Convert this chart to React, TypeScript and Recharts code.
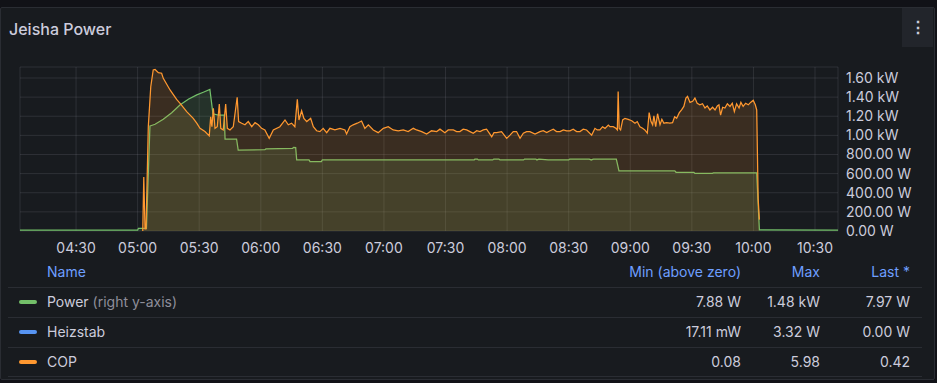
import React from 'react'
import { ComposedChart, Area, XAxis, YAxis, CartesianGrid } from 'recharts'

// times are minutes since midnight
const powerMinutes = [
  242.7, 300.0, 300.4, 304.3, 306.0, 306.4, 308.5, 312.5, 316.6, 320.6, 324.7, 328.8, 332.0, 335.2,
  336.7, 339.3, 342.2, 342.6, 348.2, 349.0, 362.0, 362.5, 375.5, 376.0, 377.0, 377.5, 383.5, 384.0,
  389.5, 390.0, 464.0, 464.3, 465.5, 466.0, 473.0, 473.5, 476.0, 476.5, 488.0, 488.5, 494.0, 494.5,
  495.5, 500.0, 510.0, 510.5, 520.0, 521.0, 522.0, 533.2, 534.5, 561.7, 562.3, 571.0, 571.5, 580.0,
  580.5, 601.6, 602.9, 641.2,
]
const powerWatts = [
  8, 8, 28, 28, 1098, 1101, 1116, 1168, 1237, 1318, 1378, 1423, 1451, 1480,
  1225, 1213, 1213, 962, 962, 847, 850, 858, 865, 875, 872, 743, 743, 725,
  725, 743, 743, 752, 752, 743, 743, 752, 752, 743, 743, 752, 752, 743,
  752, 743, 743, 752, 752, 743, 752, 752, 628, 628, 614, 614, 603, 603,
  608, 608, 12, 8,
]

const copMinutes = [
  302.5, 303.0, 303.6, 304.1, 305.2, 306.4, 307.6, 308.5, 310.1, 311.7, 312.5, 315.8, 319.0, 320.6,
  323.9, 327.1, 328.8, 330.4, 332.8, 334.9, 335.6, 336.2, 336.9, 337.7, 338.8, 339.8, 340.5, 341.7,
  342.9, 343.7, 345.0, 346.6, 348.5, 349.2, 350.7, 352.3, 353.9, 355.6, 357.2, 358.8, 360.4, 362.0,
  364.1, 366.1, 369.3, 371.8, 373.4, 375.0, 376.6, 377.8, 378.6, 379.9, 381.0, 382.4, 384.3, 385.6,
  387.2, 388.8, 390.4, 392.1, 393.7, 396.1, 398.6, 401.0, 401.8, 403.4, 405.0, 407.0, 409.1, 410.7,
  412.4, 414.8, 417.2, 419.7, 422.1, 424.5, 427.0, 429.4, 431.8, 434.3, 435.9, 438.4, 440.8, 443.2,
  445.7, 447.3, 449.7, 451.3, 452.2, 453.8, 455.4, 457.0, 458.6, 460.3, 461.9, 463.5, 465.2, 466.8,
  468.4, 470.0, 472.5, 473.6, 474.9, 477.3, 479.8, 481.4, 483.0, 484.6, 486.3, 487.9, 489.5, 491.1,
  493.6, 496.0, 497.6, 499.3, 500.9, 502.5, 504.1, 505.8, 507.4, 509.0, 510.6, 512.2, 513.9, 515.5,
  517.1, 518.7, 521.2, 522.8, 523.9, 525.2, 526.5, 527.7, 529.3, 530.1, 531.7, 533.0, 533.7, 534.1,
  534.6, 535.3, 536.3, 537.4, 539.0, 540.7, 542.3, 543.4, 544.7, 546.0, 547.1, 548.3, 549.2, 550.1,
  550.9, 551.5, 552.4, 553.3, 554.5, 555.4, 556.4, 557.7, 559.3, 560.6, 561.6, 562.6, 563.9, 565.0,
  566.1, 567.1, 567.9, 569.1, 570.4, 571.5, 572.6, 573.9, 575.2, 576.4, 577.5, 578.8, 580.1, 581.3,
  582.4, 583.2, 584.0, 585.0, 586.1, 587.3, 588.6, 589.7, 590.7, 591.8, 593.0, 593.9, 595.0, 596.2,
  597.5, 598.6, 599.9, 600.9, 601.6, 602.3, 602.9,
]
const copValues = [
  0, 2.0, 0.08, 0.08, 3.86, 5.34, 5.96, 5.98, 5.86, 5.84, 5.65, 5.22, 4.87, 4.73,
  4.42, 4.17, 3.99, 3.8, 3.68, 3.52, 4.23, 3.86, 4.54, 3.8, 3.86, 4.7, 3.8, 3.74,
  4.7, 3.8, 3.74, 3.86, 4.95, 4.05, 3.99, 3.93, 4.05, 3.86, 4.01, 3.93, 3.8, 3.74,
  3.43, 3.74, 3.86, 4.11, 3.93, 3.99, 3.86, 4.87, 4.11, 4.45, 4.17, 4.05, 4.17, 3.86,
  3.71, 3.68, 3.8, 3.64, 3.8, 3.74, 3.8, 3.74, 3.59, 3.86, 3.93, 3.99, 4.07, 3.8,
  3.93, 3.74, 3.64, 3.8, 3.86, 3.74, 3.71, 3.74, 3.68, 3.8, 3.74, 3.68, 3.59, 3.71,
  3.68, 3.77, 3.64, 3.74, 3.74, 3.74, 3.68, 3.68, 3.77, 3.74, 3.68, 3.62, 3.71, 3.68,
  3.74, 3.77, 3.49, 3.64, 3.64, 3.68, 3.43, 3.55, 3.68, 3.68, 3.43, 3.62, 3.68, 3.68,
  3.59, 3.68, 3.71, 3.64, 3.71, 3.77, 3.68, 3.68, 3.74, 3.71, 3.71, 3.77, 3.68, 3.68,
  3.77, 3.74, 3.55, 3.8, 3.74, 3.74, 3.86, 3.8, 3.92, 3.86, 3.86, 3.8, 3.74, 5.16,
  3.8, 3.74, 4.11, 4.17, 4.13, 4.08, 3.99, 4.05, 3.86, 3.8, 3.74, 3.62, 4.38, 4.05,
  3.93, 4.26, 3.86, 4.34, 3.93, 4.13, 3.99, 4.01, 3.99, 4.01, 4.23, 4.17, 4.38, 4.48,
  4.61, 4.92, 4.98, 4.76, 4.8, 4.92, 4.73, 4.67, 4.71, 4.55, 4.63, 4.48, 4.58, 4.48,
  4.63, 4.67, 4.29, 4.58, 4.55, 4.71, 4.61, 4.73, 4.42, 4.71, 4.55, 4.76, 4.61, 4.73,
  4.67, 4.76, 4.84, 4.67, 4.48, 1.2, 0.42,
]

const timeTicks = [270, 300, 330, 360, 390, 420, 450, 480, 510, 540, 570, 600, 630]
const powerTicks = [0, 200, 400, 600, 800, 1000, 1200, 1400, 1600]

const legendNames = ['Power', 'Heizstab', 'COP']
const legendNotes = ['(right y-axis)', '', '']
const legendColors = ['#73BF69', '#5794F2', '#FF9830']
const legendMin = ['7.88 W', '17.11 mW', '0.08']
const legendMax = ['1.48 kW', '3.32 W', '5.98']
const legendLast = ['7.97 W', '0.00 W', '0.42']

const powerData = powerMinutes.map((t, i) => ({ t, v: powerWatts[i] }))
const copData = copMinutes.map((t, i) => ({ t, v: copValues[i] }))

const fmtTime = (m: number) => {
  const h = Math.floor(m / 60)
  const mm = Math.round(m % 60)
  return `${String(h).padStart(2, '0')}:${String(mm).padStart(2, '0')}`
}
const fmtPower = (v: number) => (v >= 1000 ? `${(v / 1000).toFixed(2)} kW` : `${v.toFixed(2)} W`)

const text = '#ccccdc'
const font = 'Inter, "Noto Sans", sans-serif'

export default function App() {
  return (
    <div style={{ position: 'relative', width: 937, height: 383, background: '#111217', fontFamily: font, overflow: 'hidden' }}>
      <style>{'body{margin:0;background:#111217}'}</style>

      {/* panel */}
      <div
        style={{
          position: 'absolute', left: 0, top: 7, width: 933, height: 371,
          background: '#181b1f', border: '1px solid #2a2d33', borderRadius: 2,
        }}
      />
      <div style={{ position: 'absolute', left: 9, top: 18, fontSize: 16, fontWeight: 500, color: text, lineHeight: '22px' }}>
        Jeisha Power
      </div>
      <div
        style={{
          position: 'absolute', left: 902, top: 8, width: 31, height: 39, background: '#22252b',
          color: text, fontSize: 16, lineHeight: '39px', textAlign: 'center', fontWeight: 700,
        }}
      >
        ⋮
      </div>

      {/* chart */}
      <div style={{ position: 'absolute', left: 0, top: 0 }}>
        <ComposedChart width={937} height={260} margin={{ top: 67, right: 8, bottom: 0, left: 20 }} style={{ fontFamily: font }}>
          <CartesianGrid yAxisId="power" stroke="rgba(204,204,220,0.12)" strokeWidth={1} />
          <XAxis
            type="number"
            dataKey="t"
            domain={[242.7, 641.2]}
            ticks={timeTicks}
            interval={0}
            allowDataOverflow
            tickFormatter={fmtTime}
            axisLine={false}
            tickLine={false}
            tickMargin={6}
            height={29}
            tick={{ fill: text, fontSize: 14 }}
          />
          <YAxis yAxisId="cop" hide domain={[0, 6.07]} />
          <YAxis
            yAxisId="power"
            orientation="right"
            domain={[0, 1715]}
            ticks={powerTicks}
            interval={0}
            width={91}
            tickFormatter={fmtPower}
            axisLine={false}
            tickLine={false}
            tick={{ fill: text, fontSize: 14 }}
          />
          <Area
            yAxisId="power"
            data={powerData}
            dataKey="v"
            type="linear"
            stroke="#73BF69"
            strokeWidth={1.25}
            fill="#73BF69"
            fillOpacity={0.15}
            dot={false}
            activeDot={false}
            isAnimationActive={false}
          />
          <Area
            yAxisId="cop"
            data={copData}
            dataKey="v"
            type="linear"
            stroke="#FF9830"
            strokeWidth={1.25}
            fill="#FF9830"
            fillOpacity={0.15}
            dot={false}
            activeDot={false}
            isAnimationActive={false}
          />
        </ComposedChart>
      </div>

      {/* legend table */}
      <div style={{ position: 'absolute', left: 47, top: 262, fontSize: 14, lineHeight: '20px', color: '#6e9fff' }}>Name</div>
      <div style={{ position: 'absolute', right: 937 - 741, top: 262, fontSize: 14, lineHeight: '20px', color: '#6e9fff' }}>Min (above zero)</div>
      <div style={{ position: 'absolute', right: 937 - 820, top: 262, fontSize: 14, lineHeight: '20px', color: '#6e9fff' }}>Max</div>
      <div style={{ position: 'absolute', right: 937 - 910, top: 262, fontSize: 14, lineHeight: '20px', color: '#6e9fff' }}>Last *</div>
      {legendNames.map((name, i) => {
        const cy = 301.5 + i * 30
        return (
          <React.Fragment key={name}>
            <div style={{ position: 'absolute', left: 8, width: 914, top: cy - 15, height: 1, background: '#2a2d33' }} />
            <div style={{ position: 'absolute', left: 19, top: cy - 2, width: 18, height: 4, borderRadius: 2, background: legendColors[i] }} />
            <div style={{ position: 'absolute', left: 47, top: cy - 10, fontSize: 14, lineHeight: '20px', color: text, whiteSpace: 'nowrap' }}>
              {name}
              {legendNotes[i] && <span style={{ color: '#8e8e9a' }}> {legendNotes[i]}</span>}
            </div>
            <div style={{ position: 'absolute', right: 937 - 741, top: cy - 10, fontSize: 14, lineHeight: '20px', color: text }}>{legendMin[i]}</div>
            <div style={{ position: 'absolute', right: 937 - 820, top: cy - 10, fontSize: 14, lineHeight: '20px', color: text }}>{legendMax[i]}</div>
            <div style={{ position: 'absolute', right: 937 - 910, top: cy - 10, fontSize: 14, lineHeight: '20px', color: text }}>{legendLast[i]}</div>
          </React.Fragment>
        )
      })}
      <div style={{ position: 'absolute', left: 8, width: 914, top: 376, height: 1, background: '#2a2d33' }} />
    </div>
  )
}
